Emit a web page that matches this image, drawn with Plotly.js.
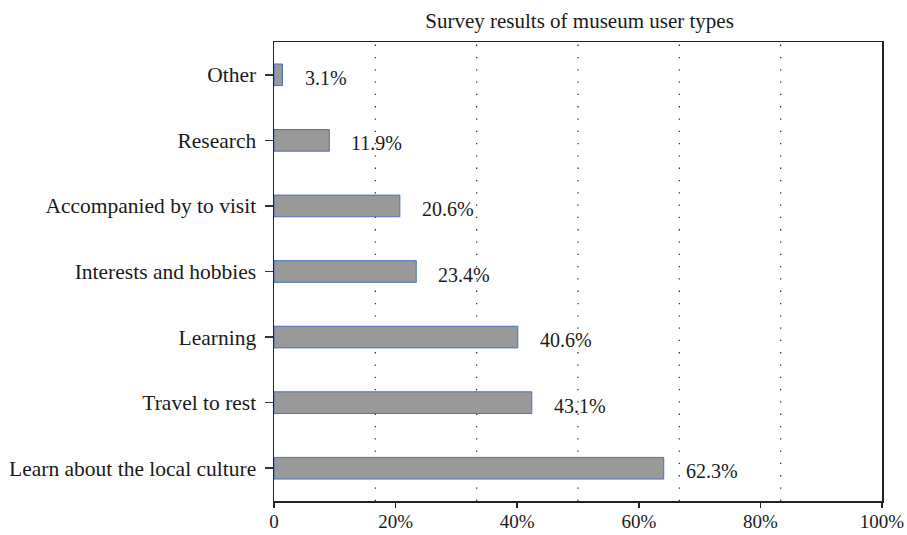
<!DOCTYPE html>
<html>
<head>
<meta charset="utf-8">
<script src="https://cdn.plot.ly/plotly-3.0.1.min.js"></script>
<style>html,body{margin:0;padding:0;background:#fff;}#chart{width:907px;height:535px;}</style>
</head>
<body>
<div id="chart"></div>
<script>
// Categories, top to bottom
const categories = ["Other", "Research", "Accompanied by to visit", "Interests and hobbies", "Learning", "Travel to rest", "Learn about the local culture"];
// Bar lengths as drawn (percent)
const barValues = [1.4, 9.1, 20.7, 23.4, 40.1, 42.4, 64.1];
// Data labels as printed
const labelTexts = ["3.1%", "11.9%", "20.6%", "23.4%", "40.6%", "43.1%", "62.3%"];
// Axis ticks
const xTickVals = [0, 20, 40, 60, 80, 100];
const xTickText = ["0", "20%", "40%", "60%", "80%", "100%"];
// Dotted reference lines
const gridVals = [100/6, 200/6, 300/6, 400/6, 500/6];

const font = "Liberation Serif, DejaVu Serif, serif";

const trace = {
  type: "bar",
  orientation: "h",
  y: categories,
  x: barValues,
  marker: {color: "#999999", line: {color: "#4a6fbf", width: 1}},
  hoverinfo: "skip"
};

const annotations = categories.map((c, i) => ({
  x: barValues[i], y: c, xref: "x", yref: "y",
  text: labelTexts[i], showarrow: false,
  xanchor: "left", yanchor: "middle", xshift: 20, yshift: -3,
  font: {family: font, size: 20, color: "#1a1a1a"}
}));

const shapes = gridVals.map(v => ({
  type: "line", xref: "x", yref: "paper", x0: v, x1: v, y0: 0, y1: 1,
  layer: "below",
  line: {color: "#333", width: 1.3, dash: "1.3px,11px"}
}));

const layout = {
  width: 907, height: 535,
  margin: {l: 274, r: 25, t: 42, b: 34},
  paper_bgcolor: "#fff", plot_bgcolor: "#fff",
  showlegend: false,
  bargap: 0.67,
  title: {text: "Survey results of museum user types", x: 0.639, xanchor: "center", y: 0.962, yanchor: "middle",
          font: {family: font, size: 21, color: "#1a1a1a"}},
  xaxis: {
    range: [0, 100], tickvals: xTickVals, ticktext: xTickText,
    showgrid: false, zeroline: false,
    showline: true, mirror: true, linecolor: "#222", linewidth: 1.5,
    ticks: "outside", ticklen: 5, tickcolor: "#222", tickwidth: 1.5,
    ticklabelstandoff: -2,
    tickfont: {family: font, size: 19, color: "#1a1a1a"}
  },
  yaxis: {
    autorange: "reversed", type: "category",
    showgrid: false, zeroline: false,
    showline: true, mirror: true, linecolor: "#222", linewidth: 1.5,
    ticks: "outside", ticklen: 8, tickcolor: "#333", tickwidth: 1.5,
    ticklabelstandoff: 4,
    tickfont: {family: font, size: 21.5, color: "#1a1a1a"}
  },
  annotations: annotations,
  shapes: shapes
};

Plotly.newPlot("chart", [trace], layout, {displayModeBar: false, staticPlot: true});
</script>
</body>
</html>
